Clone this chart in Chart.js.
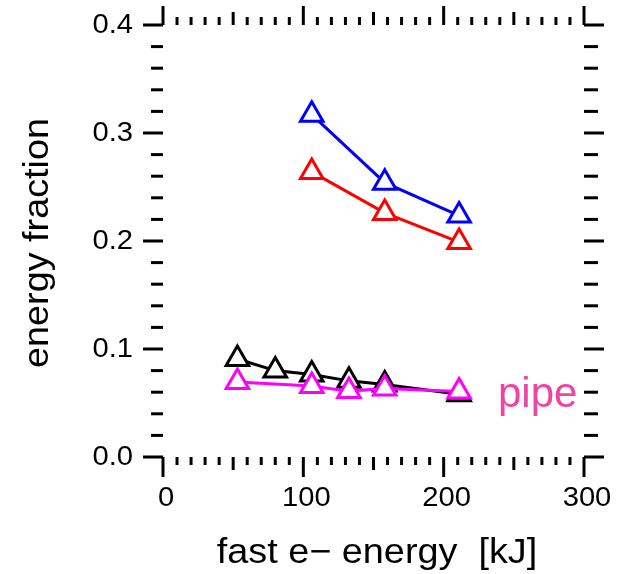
<!DOCTYPE html>
<html>
<head>
<meta charset="utf-8">
<script src="https://cdn.jsdelivr.net/npm/chart.js@4/dist/chart.umd.min.js"></script>
<style>
  html, body { margin: 0; padding: 0; background: #ffffff; }
  #wrap { width: 621px; height: 574px; position: relative; }
</style>
</head>
<body>
<div id="wrap"><canvas id="c" width="621" height="574"></canvas></div>
<script>
// ---- data ----
const blueX    = [106, 158, 211];
const blueY    = [0.317, 0.254, 0.2235];
const redX     = [106, 158, 211];
const redY     = [0.264, 0.226, 0.199];
const blackX   = [53, 80, 106, 132.5, 158, 211];
const blackY   = [0.0907, 0.080, 0.0764, 0.0705, 0.0671, 0.058];
const magentaX = [53, 106, 132.5, 158, 211];
const magentaY = [0.0694, 0.0657, 0.061, 0.0634, 0.0606];

// ---- axes ----
const xTickLabels = ['0', '100', '200', '300'];
const xTickValues = [0, 100, 200, 300];
const yTickLabels = ['0.0', '0.1', '0.2', '0.3', '0.4'];
const yTickValues = [0, 0.1, 0.2, 0.3, 0.4];
const xTitle = 'fast e\u2212 energy  [kJ]';
const yTitle = 'energy fraction';
const annotationText = 'pipe';

const FONT = "'Liberation Sans', Arial, Helvetica, sans-serif";
const STRETCH = 1.08;

function pts(xs, ys) { return xs.map((x, i) => ({ x: x, y: ys[i] })); }

function ds(label, xs, ys, color) {
  return {
    label: label,
    data: pts(xs, ys),
    borderColor: color,
    backgroundColor: '#ffffff',
    borderWidth: 3,
    pointStyle: 'triangle',
    pointRadius: 13,
    pointHoverRadius: 13,
    pointBorderWidth: 3,
    pointBackgroundColor: '#ffffff',
    pointBorderColor: color,
    fill: false,
    tension: 0
  };
}

function stretchedText(ctx, text, x, y, align, rot) {
  ctx.save();
  ctx.translate(x, y);
  if (rot) ctx.rotate(rot);
  ctx.scale(STRETCH, 1);
  ctx.textAlign = align;
  ctx.fillText(text, 0, 0);
  ctx.restore();
}

const axesPlugin = {
  id: 'igorAxes',
  afterDraw(chart) {
    const ctx = chart.ctx;
    const xs = chart.scales.x, ys = chart.scales.y;
    const L = chart.chartArea.left, R = chart.chartArea.right;
    const T = chart.chartArea.top, B = chart.chartArea.bottom;
    ctx.save();
    ctx.strokeStyle = '#000';
    ctx.lineWidth = 3;
    ctx.lineCap = 'butt';
    function line(x1, y1, x2, y2) {
      ctx.beginPath(); ctx.moveTo(x1, y1); ctx.lineTo(x2, y2); ctx.stroke();
    }
    // x axis ticks (bottom outward down, top outward up)
    for (let v = 0; v <= 300 + 1e-9; v += 10) {
      const px = xs.getPixelForValue(v);
      let lb, lt;
      if (v % 100 === 0) { lb = 20; lt = 19; }
      else if (v % 50 === 0) { lb = 13; lt = 13; }
      else { lb = 8; lt = 8; }
      line(px, B, px, B + lb);
      line(px, T, px, T - lt);
    }
    // y axis ticks (left outward left, right outward right)
    for (let i = 0; i <= 20; i++) {
      const v = i * 0.02;
      const py = ys.getPixelForValue(v);
      const major = (i % 5 === 0);
      line(L, py, L - (major ? 20 : 12), py);
      line(R, py, R + (major ? 20 : 14), py);
    }
    // tick labels
    ctx.fillStyle = '#000';
    ctx.font = '27px ' + FONT;
    ctx.textBaseline = 'middle';
    yTickValues.forEach((v, i) => {
      stretchedText(ctx, yTickLabels[i], L - 30, ys.getPixelForValue(v) + 1, 'right');
    });
    ctx.textBaseline = 'alphabetic';
    xTickValues.forEach((v, i) => {
      stretchedText(ctx, xTickLabels[i], xs.getPixelForValue(v) + 3, 506, 'center');
    });
    // axis titles
    ctx.font = '35px ' + FONT;
    stretchedText(ctx, xTitle, 377, 563, 'center');
    stretchedText(ctx, yTitle, 48, 243, 'center', -Math.PI / 2);
    // annotation
    ctx.font = '42px ' + FONT;
    ctx.fillStyle = '#EE44A4';
    ctx.textAlign = 'left';
    ctx.fillText(annotationText, 498, 407);
    ctx.restore();
  }
};

new Chart(document.getElementById('c'), {
  type: 'line',
  data: {
    datasets: [
      ds('pipe', magentaX, magentaY, '#ff00ff'),
      ds('black', blackX, blackY, '#000000'),
      ds('red', redX, redY, '#ff0000'),
      ds('blue', blueX, blueY, '#0000ff')
    ]
  },
  options: {
    responsive: false,
    animation: false,
    devicePixelRatio: 1,
    layout: { padding: { left: 163, right: 37, top: 25, bottom: 117 } },
    plugins: { legend: { display: false }, tooltip: { enabled: false } },
    events: [],
    scales: {
      x: { type: 'linear', min: 0, max: 300, display: false },
      y: { type: 'linear', min: 0, max: 0.4, display: false }
    }
  },
  plugins: [axesPlugin]
});
</script>
</body>
</html>
